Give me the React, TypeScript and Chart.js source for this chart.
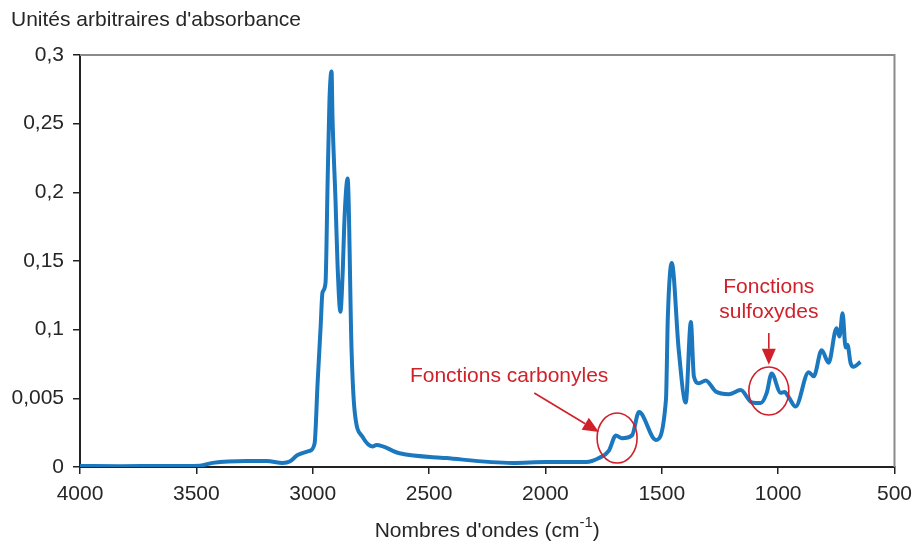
import React, { useEffect, useRef } from "react";
import { Chart, registerables } from "chart.js";

Chart.register(...registerables);

// ---- Data ----
const wavenumbers = [
  4000, 3828, 3657, 3485, 3430, 3284, 3198, 3129, 3099, 3065, 3014, 2992, 2979, 2966, 2958,
  2945, 2936, 2928, 2919, 2915, 2902, 2893, 2881, 2872, 2863, 2850, 2833, 2820, 2786, 2743,
  2726, 2627, 2426, 2143, 1997, 1825, 1770, 1727, 1697, 1671, 1628, 1598, 1525, 1482, 1474,
  1457, 1427, 1397, 1375, 1362, 1341, 1311, 1268, 1212, 1161, 1113, 1075, 1049, 1028, 989,
  972, 955, 925, 869, 847, 813, 783, 749, 736, 723, 710, 702, 689, 676, 646,
];
const absorbance = [
  0.0007, 0.0006, 0.0007, 0.001, 0.003, 0.0044, 0.0044, 0.003, 0.004, 0.0087, 0.0117, 0.017, 0.061, 0.102, 0.127,
  0.134, 0.207, 0.267, 0.288, 0.255, 0.194, 0.146, 0.113, 0.138, 0.182, 0.21, 0.085, 0.041, 0.022, 0.015,
  0.016, 0.01, 0.0065, 0.003, 0.0036, 0.0036, 0.0065, 0.012, 0.023, 0.021, 0.023, 0.04, 0.0197, 0.049, 0.109,
  0.1485, 0.085, 0.047, 0.1056, 0.066, 0.061, 0.063, 0.055, 0.053, 0.056, 0.047, 0.0466, 0.054, 0.068, 0.054,
  0.0546, 0.051, 0.044, 0.069, 0.066, 0.085, 0.076, 0.101, 0.095, 0.112, 0.087, 0.089, 0.076, 0.073, 0.0765,
];

const xTickValues = [4000, 3500, 3000, 2500, 2000, 1500, 1000, 500];
const xTickLabels = ["4000", "3500", "3000", "2500", "2000", "1500", "1000", "500"];
const yTickValues = [0, 0.05, 0.1, 0.15, 0.2, 0.25, 0.3];
const yTickLabels = ["0", "0,005", "0,1", "0,15", "0,2", "0,25", "0,3"];

const yAxisTitle = "Unités arbitraires d'absorbance";
const xAxisTitleMain = "Nombres d'ondes (cm";
const xAxisTitleSup = "-1";
const xAxisTitleEnd = ")";

// Annotations, anchored in data units
const carbonylLabel = ["Fonctions carbonyles"];
const carbonylLabelAt = [2156, 0.0663];
const carbonylArrowFrom = [2048, 0.0539];
const carbonylArrowTo = [1770, 0.0255];
const carbonylCircleAt = [1692, 0.0211];

const sulfoxLabel = ["Fonctions", "sulfoxydes"];
const sulfoxLabelAt = [1040, 0.131];
const sulfoxArrowFrom = [1040, 0.0976];
const sulfoxArrowTo = [1040, 0.0745];
const sulfoxCircleAt = [1040, 0.0553];

const FONT = "'Liberation Sans', Arial, Helvetica, sans-serif";
const FS = 21;
const BLUE = "#1b78bf";
const RED = "#d0202a";
const TEXT = "#262626";

function drawArrow(ctx: CanvasRenderingContext2D, x1: number, y1: number, x2: number, y2: number) {
  const ang = Math.atan2(y2 - y1, x2 - x1);
  const hl = 16;
  const hw = 7;
  const bx = x2 - hl * Math.cos(ang);
  const by = y2 - hl * Math.sin(ang);
  ctx.beginPath();
  ctx.moveTo(x1, y1);
  ctx.lineTo(bx, by);
  ctx.stroke();
  ctx.beginPath();
  ctx.moveTo(x2, y2);
  ctx.lineTo(bx + hw * Math.sin(ang), by - hw * Math.cos(ang));
  ctx.lineTo(bx - hw * Math.sin(ang), by + hw * Math.cos(ang));
  ctx.closePath();
  ctx.fill();
}

const decorPlugin = {
  id: "decor",
  afterDraw(chart: any) {
    const { ctx, chartArea, scales } = chart;
    const xs = scales.x;
    const ys = scales.y;
    const px = (p: number[]) => [xs.getPixelForValue(p[0]), ys.getPixelForValue(p[1])];
    ctx.save();

    // top and right frame (gray)
    ctx.strokeStyle = "#8a8a8a";
    ctx.lineWidth = 2;
    ctx.beginPath();
    ctx.moveTo(chartArea.left, chartArea.top);
    ctx.lineTo(chartArea.right, chartArea.top);
    ctx.lineTo(chartArea.right, chartArea.bottom);
    ctx.stroke();

    // y axis title (top-left)
    ctx.fillStyle = TEXT;
    ctx.font = `${FS}px ${FONT}`;
    ctx.textAlign = "left";
    ctx.textBaseline = "middle";
    ctx.fillText(yAxisTitle, 11, 20);

    // x axis title with superscript
    const mainW = ctx.measureText(xAxisTitleMain).width;
    ctx.font = `15px ${FONT}`;
    const supW = ctx.measureText(xAxisTitleSup).width;
    ctx.font = `${FS}px ${FONT}`;
    const endW = ctx.measureText(xAxisTitleEnd).width;
    const total = mainW + supW + endW;
    let sx = (chartArea.left + chartArea.right) / 2 - total / 2;
    const ty = 531;
    ctx.fillText(xAxisTitleMain, sx, ty);
    sx += mainW;
    ctx.font = `15px ${FONT}`;
    ctx.fillText(xAxisTitleSup, sx, ty - 8);
    sx += supW;
    ctx.font = `${FS}px ${FONT}`;
    ctx.fillText(xAxisTitleEnd, sx, ty);

    // annotations
    ctx.fillStyle = RED;
    ctx.strokeStyle = RED;
    ctx.lineWidth = 1.6;
    ctx.textAlign = "center";
    ctx.font = `${FS}px ${FONT}`;

    const [clx, cly] = px(carbonylLabelAt);
    carbonylLabel.forEach((t, i) => ctx.fillText(t, clx, cly + i * 25));
    const [a1x, a1y] = px(carbonylArrowFrom);
    const [a2x, a2y] = px(carbonylArrowTo);
    drawArrow(ctx, a1x, a1y, a2x, a2y);
    const [ccx, ccy] = px(carbonylCircleAt);
    ctx.beginPath();
    ctx.ellipse(ccx, ccy, 20, 25, 0, 0, Math.PI * 2);
    ctx.stroke();

    const [slx, sly] = px(sulfoxLabelAt);
    sulfoxLabel.forEach((t, i) => ctx.fillText(t, slx, sly + i * 25));
    const [b1x, b1y] = px(sulfoxArrowFrom);
    const [b2x, b2y] = px(sulfoxArrowTo);
    drawArrow(ctx, b1x, b1y, b2x, b2y);
    const [scx, scy] = px(sulfoxCircleAt);
    ctx.beginPath();
    ctx.ellipse(scx, scy, 20, 24, 0, 0, Math.PI * 2);
    ctx.stroke();

    ctx.restore();
  },
};

export default function App() {
  const ref = useRef<HTMLCanvasElement | null>(null);

  useEffect(() => {
    if (!ref.current) return;
    const points = wavenumbers.map((w, i) => ({ x: w, y: absorbance[i] }));
    const chart = new Chart(ref.current, {
      type: "line",
      data: {
        datasets: [
          {
            data: points,
            borderColor: BLUE,
            backgroundColor: BLUE,
            borderWidth: 4,
            pointRadius: 0,
            cubicInterpolationMode: "monotone",
            fill: false,
          },
        ],
      },
      options: {
        responsive: false,
        animation: false,
        devicePixelRatio: 1,
        layout: { padding: { top: 55, right: 20, left: 0, bottom: 0 } },
        plugins: {
          legend: { display: false },
          tooltip: { enabled: false },
          title: { display: false },
        },
        scales: {
          x: {
            type: "linear",
            reverse: true,
            min: 500,
            max: 4000,
            afterBuildTicks: (axis: any) => {
              axis.ticks = xTickValues.map((v) => ({ value: v }));
            },
            afterFit: (axis: any) => {
              axis.height = 77;
            },
            ticks: {
              autoSkip: false,
              maxRotation: 0,
              padding: 8,
              color: TEXT,
              font: { family: FONT, size: FS },
              callback: (v: any) => {
                const i = xTickValues.indexOf(Number(v));
                return i >= 0 ? xTickLabels[i] : "";
              },
            },
            grid: { drawOnChartArea: false, drawTicks: true, tickLength: 7, color: "#222", lineWidth: 1.5 },
            border: { display: true, color: "#222", width: 2 },
          },
          y: {
            type: "linear",
            min: 0,
            max: 0.3,
            afterBuildTicks: (axis: any) => {
              axis.ticks = yTickValues.map((v) => ({ value: v }));
            },
            afterFit: (axis: any) => {
              axis.width = 80;
            },
            ticks: {
              autoSkip: false,
              padding: 9,
              color: TEXT,
              font: { family: FONT, size: FS },
              callback: (v: any) => {
                const i = yTickValues.findIndex((t) => Math.abs(t - Number(v)) < 1e-9);
                return i >= 0 ? yTickLabels[i] : "";
              },
            },
            grid: { drawOnChartArea: false, drawTicks: true, tickLength: 7, color: "#222", lineWidth: 1.5 },
            border: { display: true, color: "#222", width: 2 },
          },
        },
      },
      plugins: [decorPlugin],
    } as any);
    return () => chart.destroy();
  }, []);

  return (
    <div style={{ position: "fixed", left: 0, top: 0, width: 920, height: 544, background: "#fff" }}>
      <canvas ref={ref} width={920} height={544} style={{ width: 920, height: 544, display: "block" }} />
    </div>
  );
}
